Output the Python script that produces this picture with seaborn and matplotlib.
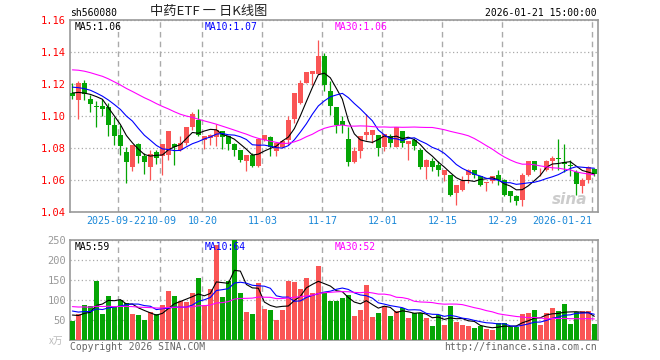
import numpy as np
import pandas as pd
import matplotlib
matplotlib.use('Agg')
import matplotlib.pyplot as plt
import matplotlib.transforms as mtransforms
import seaborn as sns

#%% Data (daily K line, 2025-09-10 .. 2026-01-21)
opens = [1.1148, 1.1098, 1.1206, 1.1108, 1.1063, 1.1065, 1.1058, 1.0946, 1.0881, 1.0777,
         1.0679, 1.0827, 1.0748, 1.0683, 1.0777, 1.0748, 1.0755, 1.0827, 1.0785, 1.0835,
         1.0931, 1.0977, 1.0852, 1.0863, 1.0869, 1.0904, 1.0873, 1.0827, 1.0785, 1.0717,
         1.0758, 1.0685, 1.0850, 1.0867, 1.0779, 1.0810, 1.0852, 1.0981, 1.1085, 1.1210,
         1.1263, 1.1263, 1.1377, 1.1160, 1.1060, 1.0967, 1.0858, 1.0710, 1.0779, 1.0881,
         1.0881, 1.0881, 1.0810, 1.0877, 1.0810, 1.0908, 1.0827, 1.0852, 1.0785, 1.0679,
         1.0717, 1.0696, 1.0633, 1.0629, 1.0519, 1.0535, 1.0629, 1.0665, 1.0623, 1.0579,
         1.0592, 1.0629, 1.0602, 1.0529, 1.0498, 1.0477, 1.0629, 1.0717, 1.0660, 1.0665,
         1.0717, 1.0735, 1.0715, 1.0696, 1.0648, 1.0560, 1.0602, 1.0669]
highs = [1.1206, 1.1217, 1.1227, 1.1133, 1.1096, 1.1106, 1.1081, 1.0994, 1.0942, 1.0810,
         1.0817, 1.0831, 1.0769, 1.0785, 1.0785, 1.0827, 1.0908, 1.0831, 1.0877, 1.0935,
         1.1023, 1.1046, 1.0877, 1.0890, 1.0950, 1.0908, 1.0877, 1.0831, 1.0790, 1.0758,
         1.0769, 1.0856, 1.0885, 1.0877, 1.0829, 1.0850, 1.0998, 1.1148, 1.1227, 1.1279,
         1.1285, 1.1477, 1.1394, 1.1217, 1.1060, 1.1002, 1.0935, 1.0810, 1.0877, 1.1015,
         1.0915, 1.0881, 1.0890, 1.0890, 1.0935, 1.0908, 1.0846, 1.0863, 1.0800, 1.0733,
         1.0738, 1.0717, 1.0660, 1.0629, 1.0571, 1.0623, 1.0669, 1.0665, 1.0623, 1.0585,
         1.0627, 1.0660, 1.0608, 1.0529, 1.0508, 1.0644, 1.0717, 1.0717, 1.0675, 1.0727,
         1.0748, 1.0858, 1.0827, 1.0727, 1.0665, 1.0613, 1.0685, 1.0675]
lows = [1.1106, 1.0981, 1.1102, 1.1029, 1.0931, 1.1002, 1.0877, 1.0821, 1.0758, 1.0579,
        1.0654, 1.0706, 1.0640, 1.0598, 1.0702, 1.0629, 1.0723, 1.0692, 1.0779, 1.0821,
        1.0915, 1.0877, 1.0794, 1.0821, 1.0815, 1.0794, 1.0790, 1.0752, 1.0710, 1.0654,
        1.0679, 1.0679, 1.0845, 1.0752, 1.0752, 1.0800, 1.0821, 1.0956, 1.1077, 1.1206,
        1.1196, 1.1263, 1.1160, 1.1008, 1.0894, 1.0894, 1.0690, 1.0706, 1.0738, 1.0852,
        1.0835, 1.0752, 1.0779, 1.0810, 1.0806, 1.0810, 1.0727, 1.0790, 1.0669, 1.0608,
        1.0654, 1.0623, 1.0592, 1.0498, 1.0442, 1.0531, 1.0581, 1.0612, 1.0565, 1.0529,
        1.0581, 1.0567, 1.0498, 1.0460, 1.0442, 1.0440, 1.0623, 1.0654, 1.0623, 1.0654,
        1.0665, 1.0665, 1.0648, 1.0627, 1.0508, 1.0519, 1.0581, 1.0623]
closes = [1.1129, 1.1210, 1.1138, 1.1079, 1.1056, 1.1046, 1.0946, 1.0877, 1.0815, 1.0710,
          1.0817, 1.0748, 1.0710, 1.0765, 1.0735, 1.0827, 1.0908, 1.0806, 1.0831, 1.0929,
          1.1015, 1.0883, 1.0877, 1.0883, 1.0915, 1.0869, 1.0827, 1.0785, 1.0727, 1.0758,
          1.0685, 1.0856, 1.0882, 1.0810, 1.0829, 1.0846, 1.0977, 1.1148, 1.1210, 1.1275,
          1.1285, 1.1379, 1.1196, 1.1065, 1.0946, 1.0946, 1.0710, 1.0779, 1.0877, 1.0898,
          1.0915, 1.0800, 1.0890, 1.0835, 1.0935, 1.0835, 1.0846, 1.0815, 1.0679, 1.0727,
          1.0681, 1.0660, 1.0660, 1.0504, 1.0567, 1.0592, 1.0665, 1.0629, 1.0567, 1.0585,
          1.0627, 1.0598, 1.0504, 1.0498, 1.0467, 1.0633, 1.0717, 1.0665, 1.0665, 1.0717,
          1.0738, 1.0733, 1.0698, 1.0690, 1.0577, 1.0602, 1.0681, 1.0640]
# volume, 10k shares
volumes = [48, 64, 87.5, 85, 148, 65, 110, 83, 99, 92.5,
           65, 62.5, 50, 69, 64, 87.5, 122.5, 110, 97.5, 94,
           117.5, 156, 87.5, 127.5, 238, 108, 147.5, 250, 118, 71,
           65, 143, 77.5, 75, 50, 75, 147.5, 146, 127.5, 156,
           118, 186, 117, 97.5, 97.5, 106, 112.5, 61, 75, 137.5,
           57.5, 67.5, 85, 60, 72.5, 80, 55, 66.5, 66.5, 55,
           35, 63.5, 37.5, 85, 45, 37.5, 35, 30, 35, 27.5,
           25.8, 42.5, 42.5, 32.5, 32.5, 65, 67.5, 75, 37.5, 67.5,
           80, 72.5, 90, 41, 70, 72.5, 72.5, 40]

# sessions before the window, only feed the moving averages at the left edge
prior_closes = [1.128, 1.132, 1.136, 1.140, 1.138, 1.142, 1.145, 1.140, 1.136, 1.138,
                1.134, 1.130, 1.128, 1.132, 1.135, 1.138, 1.134, 1.130, 1.127, 1.125,
                1.124, 1.120, 1.118, 1.123, 1.124, 1.119, 1.116, 1.112, 1.1125]
prior_volumes = [95, 80, 110, 70, 90, 85, 120, 75, 95, 80,
                 100, 70, 85, 95, 90, 75, 105, 80, 90, 90,
                 90, 75, 85, 80, 82, 70, 60, 72, 62]

tick_idx = [8, 15, 22, 32, 42, 52, 62, 72, 87]
tick_labels = ['2025-09-22', '10-09', '10-20', '11-03', '11-17', '12-01', '12-15', '12-29', '2026-01-21']
price_ticks = [1.04, 1.06, 1.08, 1.10, 1.12, 1.14, 1.16]
vol_ticks = [50, 100, 150, 200, 250]

#%% Build frame + moving averages
df = pd.DataFrame({'idx': np.arange(len(closes)), 'open': opens, 'high': highs,
                   'low': lows, 'close': closes, 'vol': volumes})
df['dir'] = np.where(df['close'] >= df['open'], 'up', 'down')

n0 = len(prior_closes)
all_close = pd.Series(prior_closes + closes)
all_vol = pd.Series(prior_volumes + volumes)
for w in (5, 10, 30):
    df[f'ma{w}'] = all_close.rolling(w).mean().iloc[n0:].values
    df[f'vma{w}'] = all_vol.rolling(w).mean().iloc[n0:].values

RED, GREEN = '#fa5555', '#05a505'
pal = {'up': RED, 'down': GREEN}
ma_cols = {5: 'black', 10: '#0000ff', 30: '#ff00ff'}
GRID = '#aaaaaa'

sns.set_theme(style='white')
plt.rcParams['font.family'] = ['DejaVu Sans Mono', 'Noto Sans CJK SC']

W, H = 660, 360
fig = plt.figure(figsize=(6.6, 3.6), dpi=100)
ax1 = fig.add_axes([70.3 / W, 1 - 212 / H, 527.4 / W, 191.7 / H])
ax2 = fig.add_axes([70.3 / W, 1 - 340 / H, 527.4 / W, 100 / H])

#%% Price panel: candles
colors = df['dir'].map(pal)
body_lo = df[['open', 'close']].min(axis=1)
body_h = (df['close'] - df['open']).abs().clip(lower=0.0003)
ax1.vlines(df['idx'], df['low'], df['high'], colors=colors, lw=0.9, zorder=3)
ax1.bar(df['idx'], body_h, bottom=body_lo, width=0.75, color=colors, lw=0, zorder=4)
for w in (5, 10, 30):
    sns.lineplot(data=df, x='idx', y=f'ma{w}', color=ma_cols[w], lw=0.8, ax=ax1, zorder=5)

#%% Volume panel
sns.barplot(data=df, x='idx', y='vol', hue='dir', palette=pal, dodge=False,
            native_scale=True, width=0.8, saturation=1, legend=False,
            linewidth=0, ax=ax2, zorder=3)
for w in (5, 10, 30):
    sns.lineplot(data=df, x='idx', y=f'vma{w}', color=ma_cols[w], lw=0.8, ax=ax2, zorder=5)

#%% Axes styling
for ax in (ax1, ax2):
    ax.set_xlim(-0.35, 87.57)
    ax.set_xlabel(None)
    ax.set_ylabel(None)
    ax.set_xticks([i - 0.33 for i in tick_idx])
    ax.xaxis.grid(True, color=GRID, lw=1, ls=(0, (4, 3)))
    ax.yaxis.grid(True, color=GRID, lw=0.9, ls=(0, (1, 2)))
    ax.tick_params(length=0, pad=3)
    for s in ax.spines.values():
        s.set_color('#999999')
        s.set_linewidth(1.2)

ax1.set_ylim(1.04, 1.16)
ax1.set_yticks(price_ticks)
ax1.set_yticklabels([f'{v:.2f}' for v in price_ticks], color='red', fontsize=7.5)
ax1.set_xticklabels(tick_labels, color='#1a88d8', fontsize=7.2)
xlabs = ax1.get_xticklabels()
xlabs[-1].set_ha('right')
# first two labels sit edge to edge in the original
xlabs[0].set_transform(xlabs[0].get_transform() +
                       mtransforms.ScaledTranslation(-2.5 / 100, 0, fig.dpi_scale_trans))
xlabs[1].set_transform(xlabs[1].get_transform() +
                       mtransforms.ScaledTranslation(1.5 / 100, 0, fig.dpi_scale_trans))

ax2.set_ylim(0, 250)
ax2.set_yticks(vol_ticks)
ax2.set_yticklabels([str(v) for v in vol_ticks], color='#999999', fontsize=7.5)
ax2.set_xticklabels([])

#%% Header / footer texts (pixel positions)
def put(x, y, s, **kw):
    fig.text(x / W, 1 - y / H, s, va='center', **kw)

put(70, 13, 'sh560080', fontsize=7, color='black')
put(209, 12, '中药ETF 一 日K线图', fontsize=9.5, color='#222222', ha='center',
    family=['Noto Sans CJK SC', 'DejaVu Sans'])
put(597, 13, '2026-01-21 15:00:00', fontsize=7, color='black', ha='right')

last = df.iloc[-1]
put(75, 27, f"MA5:{last['ma5']:.2f}", fontsize=7, color=ma_cols[5])
put(205, 27, f"MA10:{last['ma10']:.2f}", fontsize=7, color=ma_cols[10])
put(335, 27, f"MA30:{last['ma30']:.2f}", fontsize=7, color=ma_cols[30])
put(75, 247, f"MA5:{int(last['vma5'])}", fontsize=7, color=ma_cols[5])
put(205, 247, f"MA10:{int(last['vma10'])}", fontsize=7, color=ma_cols[10])
put(335, 247, f"MA30:{int(last['vma30'])}", fontsize=7, color=ma_cols[30])

put(49, 341, 'x万', fontsize=7, color='#bbbbbb', family=['Noto Sans CJK SC', 'DejaVu Sans'])
put(70, 347, 'Copyright 2026 SINA.COM', fontsize=7, color='#666666')
put(597, 347, 'http://finance.sina.com.cn', fontsize=7, color='#666666', ha='right')
put(570, 200, 'sina', fontsize=11, color='#cccccc', ha='center', fontstyle='italic',
    fontweight='bold', family='DejaVu Sans')

fig.savefig('out.png', dpi=100, facecolor='white')
